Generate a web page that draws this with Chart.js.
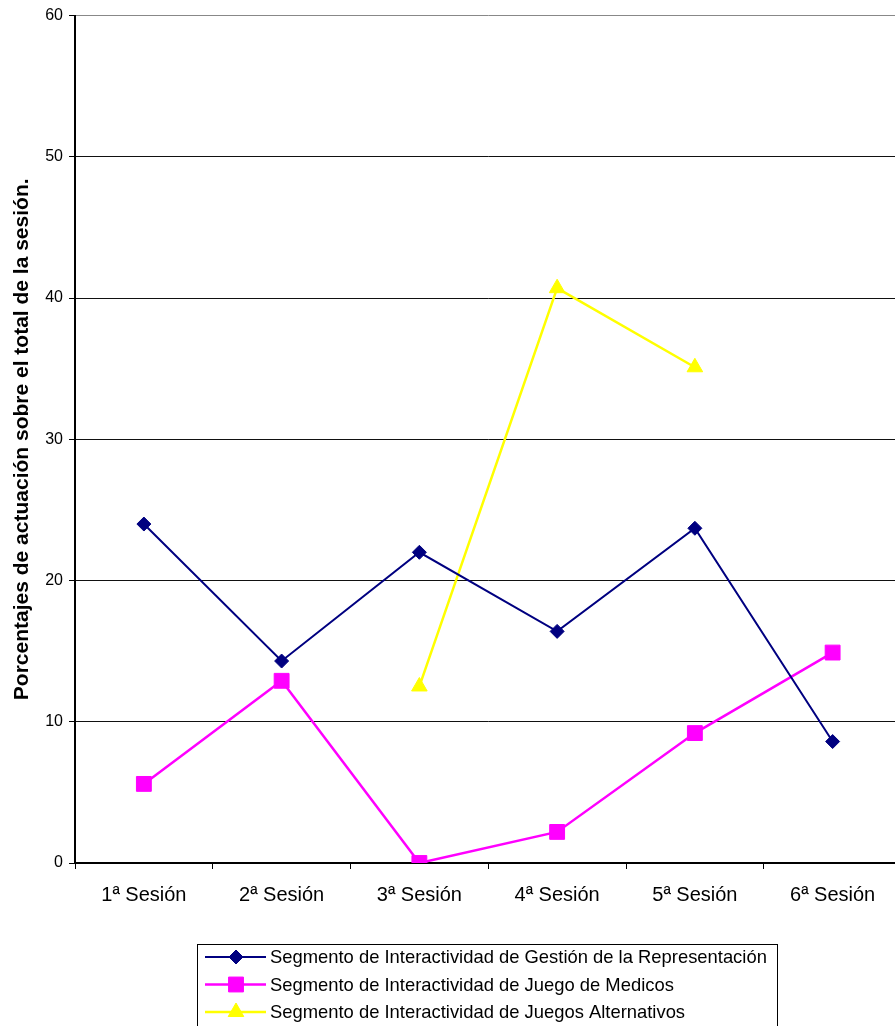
<!DOCTYPE html>
<html>
<head>
<meta charset="utf-8">
<script src="https://cdn.jsdelivr.net/npm/chart.js@4/dist/chart.umd.min.js"></script>
<style>
  html, body { margin: 0; padding: 0; background: #fff; overflow: hidden; }
  canvas { display: block; }
</style>
</head>
<body>
<canvas id="sesiones" width="913" height="1026"></canvas>
<script>
// Sesiones y porcentajes por segmento
var sesiones = ["1ª Sesión", "2ª Sesión", "3ª Sesión", "4ª Sesión", "5ª Sesión", "6ª Sesión"];
var gestionRepresentacion = [24.0, 14.3, 22.0, 16.4, 23.7, 8.6];
var juegoMedicos = [5.6, 12.9, 0.0, 2.2, 9.2, 14.9];
var juegosAlternativos = [null, null, 12.5, 40.7, 35.1, null];

var nombres = [
    "Segmento de Interactividad de Gestión de la Representación",
    "Segmento de Interactividad de Juego de Medicos",
    "Segmento de Interactividad de Juegos Alternativos"
];

var FUENTE = "'Liberation Sans', Arial, sans-serif";

// Leyenda en recuadro debajo del eje, una serie por fila
var leyendaRecuadro = {
    id: 'leyendaRecuadro',
    afterDraw: function(chart) {
        var ctx = chart.ctx;
        var x0 = 197, y0 = 944, w = 580, h = 90, fila = 27.5;
        ctx.save();
        ctx.strokeStyle = '#000';
        ctx.lineWidth = 1;
        ctx.strokeRect(x0 + 0.5, y0 + 0.5, w, h);
        ctx.font = '18.4px ' + FUENTE;
        ctx.textBaseline = 'middle';
        chart.data.datasets.forEach(function(ds, i) {
            var y = y0 + 13 + i * fila;
            ctx.strokeStyle = ds.borderColor;
            ctx.lineWidth = ds.borderWidth;
            ctx.beginPath();
            ctx.moveTo(205, y);
            ctx.lineTo(266, y);
            ctx.stroke();
            ctx.fillStyle = ds.backgroundColor;
            ctx.lineWidth = 1;
            Chart.helpers.drawPoint(ctx, {
                pointStyle: ds.pointStyle,
                radius: ds.pointRadius,
                rotation: 0,
                borderWidth: 1
            }, 236, y);
            ctx.fillStyle = '#000';
            ctx.fillText(ds.label, 270, y + 1);
        });
        ctx.restore();
    }
};

var ctx = document.getElementById('sesiones').getContext('2d');
var chart = new Chart(ctx, {
    type: 'line',
    data: {
        labels: sesiones,
        datasets: [{
            label: nombres[0],
            data: gestionRepresentacion,
            borderColor: '#000080',
            backgroundColor: '#000080',
            borderWidth: 2,
            pointStyle: 'rectRot',
            pointRadius: 7,
            pointBorderWidth: 1
        }, {
            label: nombres[1],
            data: juegoMedicos,
            borderColor: '#FF00FF',
            backgroundColor: '#FF00FF',
            borderWidth: 2.5,
            pointStyle: 'rect',
            pointRadius: 10.5,
            pointBorderWidth: 1
        }, {
            label: nombres[2],
            data: juegosAlternativos,
            borderColor: '#FFFF00',
            backgroundColor: '#FFFF00',
            borderWidth: 2.5,
            pointStyle: 'triangle',
            pointRadius: 9,
            pointBorderWidth: 1
        }]
    },
    options: {
        responsive: false,
        animation: false,
        spanGaps: false,
        layout: { padding: { top: 15, right: 0, left: 0, bottom: 0 } },
        plugins: {
            legend: { display: false },
            tooltip: { enabled: false }
        },
        scales: {
            x: {
                offset: true,
                afterFit: function(scale) { scale.height = 163; },
                grid: {
                    display: true,
                    offset: true,
                    drawOnChartArea: false,
                    drawTicks: true,
                    tickLength: 6,
                    color: '#000'
                },
                border: { display: true, color: '#000', width: 2 },
                ticks: {
                    color: '#000',
                    padding: 14,
                    maxRotation: 0,
                    font: { family: FUENTE, size: 20 }
                }
            },
            y: {
                min: 0,
                max: 60,
                afterFit: function(scale) { scale.width = 75; },
                grid: {
                    color: function(c) { return c.tick.value === 60 ? '#888' : '#111'; },
                    tickColor: '#000',
                    tickLength: 6,
                    lineWidth: 1
                },
                border: { display: true, color: '#000', width: 2 },
                ticks: {
                    stepSize: 10,
                    color: '#000',
                    padding: 6,
                    font: { family: FUENTE, size: 16 }
                },
                title: {
                    display: true,
                    text: 'Porcentajes de actuación sobre el total de la sesión.',
                    color: '#000',
                    padding: { top: 10, bottom: 0 },
                    font: { family: FUENTE, size: 21, weight: 'bold' }
                }
            }
        }
    },
    plugins: [leyendaRecuadro]
});
</script>
</body>
</html>
